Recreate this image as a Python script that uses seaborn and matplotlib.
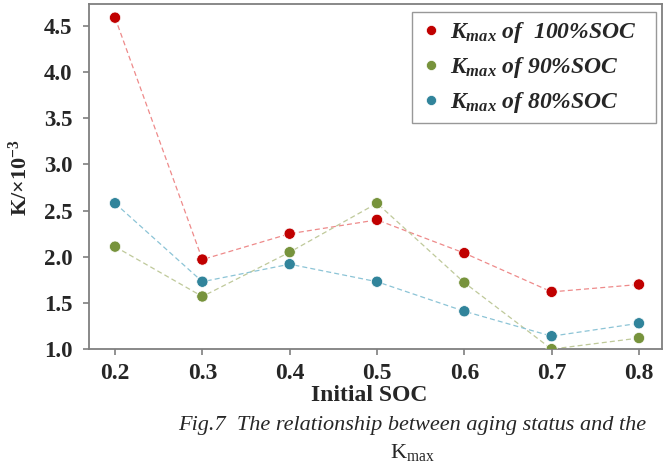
import matplotlib
matplotlib.use("Agg")
import matplotlib.pyplot as plt
import seaborn as sns
import pandas as pd

initial_soc = [0.2, 0.3, 0.4, 0.5, 0.6, 0.7, 0.8]
k_100 = [4.59, 1.97, 2.25, 2.40, 2.04, 1.62, 1.70]
k_90 = [2.11, 1.57, 2.05, 2.58, 1.72, 1.00, 1.12]
k_80 = [2.58, 1.73, 1.92, 1.73, 1.41, 1.14, 1.28]
series_labels = [r"$K_{max}$ of  100%SOC", r"$K_{max}$ of 90%SOC", r"$K_{max}$ of 80%SOC"]
y_ticks = [1.0, 1.5, 2.0, 2.5, 3.0, 3.5, 4.0, 4.5]

marker_colors = ["#C00000", "#77933C", "#31849B"]
line_colors = ["#EE8A8A", "#BFC99A", "#8CC4D6"]

sns.set_style("white")
plt.rcParams["font.family"] = ["Liberation Serif", "DejaVu Serif"]
plt.rcParams["mathtext.fontset"] = "custom"
plt.rcParams["mathtext.rm"] = "Liberation Serif"
plt.rcParams["mathtext.it"] = "Liberation Serif:italic:bold"
plt.rcParams["mathtext.bf"] = "Liberation Serif:bold"

df = pd.DataFrame({
    "Initial SOC": initial_soc * 3,
    "K": k_100 + k_90 + k_80,
    "series": [series_labels[0]] * 7 + [series_labels[1]] * 7 + [series_labels[2]] * 7,
})

fig = plt.figure(figsize=(6.63, 4.75), dpi=100)
ax = fig.add_axes([0.134, 0.265, 0.864, 0.727])

sns.lineplot(data=df, x="Initial SOC", y="K", hue="series", palette=line_colors,
             ax=ax, legend=False, linewidth=0.9, linestyle=(0, (4, 2.5)))
sns.scatterplot(data=df, x="Initial SOC", y="K", hue="series", palette=marker_colors,
                ax=ax, s=65, edgecolor="white", linewidth=0.5, zorder=3)

ax.set_xlim(0.17, 0.826)
ax.set_ylim(1.0, 4.74)
ax.set_xticks(initial_soc)
ax.set_xticklabels([f"{v:.1f}" for v in initial_soc])
ax.set_yticks(y_ticks)
ax.set_yticklabels([f"{v:.1f}" for v in y_ticks])
for lab in ax.get_xticklabels():
    lab.set_fontweight("bold")
    lab.set_fontsize(17)
for lab in ax.get_yticklabels():
    lab.set_fontweight("bold")
    lab.set_fontsize(16.5)

for side in ["left", "bottom", "top", "right"]:
    ax.spines[side].set_color("#7f7f7f")
    ax.spines[side].set_linewidth(1.3)
ax.tick_params(axis="both", which="major", direction="out", length=4, width=1.2,
               color="#7f7f7f", left=True, bottom=True)
ax.tick_params(axis="y", pad=8)
ax.tick_params(axis="x", pad=6)

ax.set_xlabel("Initial SOC", fontsize=17, fontweight="bold", va="center")
ax.xaxis.set_label_coords(0.489, -0.133)
ax.set_ylabel(r"K/×10$^{\mathbf{-3}}$", fontsize=16, fontweight="bold", va="center")
ax.yaxis.set_label_coords(-0.12, 0.496)

handles, labels = ax.get_legend_handles_labels()
leg = ax.legend(handles, [l + "\u00a0\u00a0\u00a0" for l in labels],
                loc="upper right", bbox_to_anchor=(0.99, 0.977), frameon=True,
                fancybox=False, fontsize=17, handletextpad=0.35, borderpad=0.35,
                labelspacing=0.42, handlelength=0.9, markerscale=0.9, borderaxespad=0)
leg.get_frame().set_edgecolor("#7f7f7f")
leg.get_frame().set_linewidth(1.0)
for t in leg.get_texts():
    t.set_fontstyle("italic")
    t.set_fontweight("bold")

fig.text(0.622, 0.105, "Fig.7  The relationship between aging status and the",
         ha="center", va="center", fontsize=16, fontstyle="italic")
fig.text(0.622, 0.048, r"$\mathrm{K}_{\mathrm{max}}$", ha="center", va="center", fontsize=16)

fig.savefig("out.png", dpi=100)
